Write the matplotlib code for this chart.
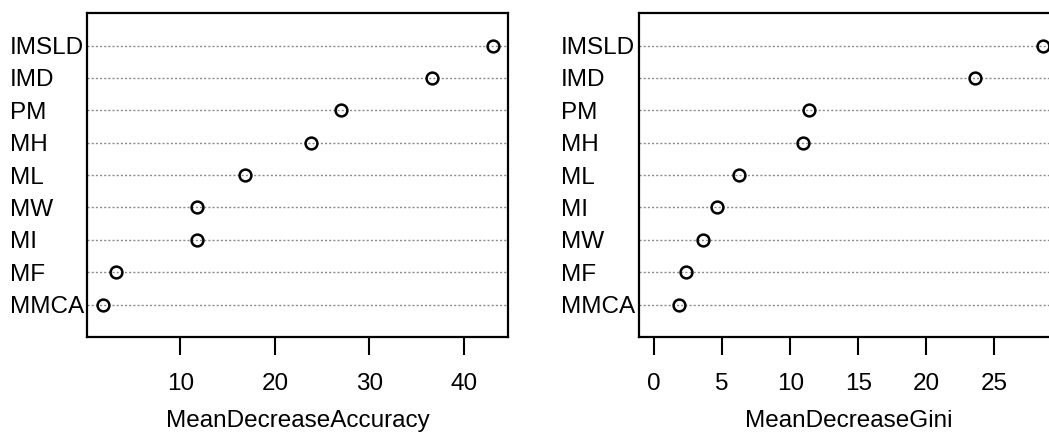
import matplotlib.pyplot as plt
import numpy as np

plt.rcParams['font.family'] = ['Liberation Sans', 'DejaVu Sans']

# variable importance, ordered bottom -> top as drawn
acc_vars = ["MMCA", "MF", "MI", "MW", "ML", "MH", "PM", "IMD", "IMSLD"]
acc_vals = [1.8, 3.2, 11.7, 11.7, 16.8, 23.8, 27.0, 36.7, 43.1]

gini_vars = ["MMCA", "MF", "MW", "MI", "ML", "MH", "PM", "IMD", "IMSLD"]
gini_vals = [1.8, 2.35, 3.6, 4.6, 6.2, 10.9, 11.4, 23.55, 28.6]

acc_ticks = [10, 20, 30, 40]
gini_ticks = [0, 5, 10, 15, 20, 25]

fig = plt.figure(figsize=(10.49, 4.33), dpi=100)
ax1 = fig.add_axes([0.0834, 0.2217, 0.4013, 0.748])
ax2 = fig.add_axes([0.6087, 0.2217, 0.4009, 0.748])


def dotchart(ax, names, vals, xmin, ticks, xlabel):
    y = np.arange(1, len(vals) + 1)
    for yy in y:
        ax.axhline(yy, color='#8c8c8c', lw=1.0, dashes=(1.5, 1.5), zorder=1)
    ax.plot(vals, y, 'o', mfc='none', mec='black', ms=8.5, mew=1.8, zorder=3)
    xmax = max(vals)
    ext = (xmax - xmin) * 0.04
    ax.set_xlim(xmin - ext, xmax + ext)
    ax.set_ylim(0, len(vals) + 1)
    ax.set_yticks(y)
    ax.set_yticklabels(names, fontsize=17.5, ha='left')
    ax.tick_params(axis='y', length=0, pad=56)
    ax.set_xticks(ticks)
    ax.tick_params(axis='x', length=13, width=1.5, pad=13, labelsize=17.5)
    ax.set_xlabel(xlabel, fontsize=17.5, labelpad=11)
    for s in ax.spines.values():
        s.set_linewidth(1.6)


dotchart(ax1, acc_vars, acc_vals, min(acc_vals), acc_ticks, "MeanDecreaseAccuracy")
dotchart(ax2, gini_vars, gini_vals, 0, gini_ticks, "MeanDecreaseGini")

fig.savefig("out.png", dpi=100)
